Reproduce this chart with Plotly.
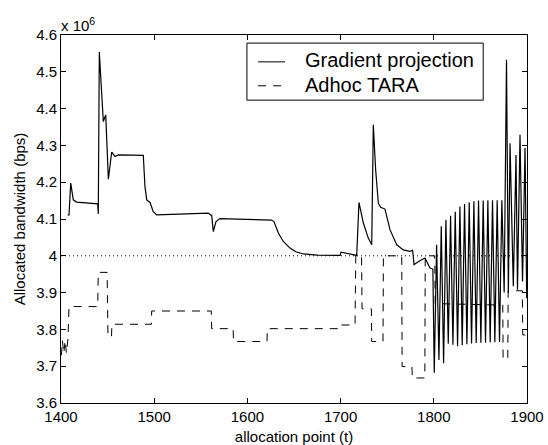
import plotly.graph_objects as go

# Allocated bandwidth in units of 10^6 bps
# Gradient projection: (allocation point, bandwidth)
gp_t = [1407.2, 1408.6, 1410.4, 1413.2, 1416.8, 1439.4, 1440.0, 1441.1, 1445.4, 1448.0,
        1450.8, 1454.4, 1457.9, 1461.5, 1488.3, 1490.1, 1492.0, 1495.5, 1499.0, 1502.7,
        1558.0, 1561.7, 1563.4, 1566.3, 1570.6, 1626.0, 1628.5, 1633.2, 1638.5, 1645.7,
        1652.0, 1660.0, 1675.0, 1699.5, 1700.4, 1717.3, 1719.7, 1724.4, 1729.7, 1733.4,
        1735.1, 1737.6, 1740.5, 1743.0, 1747.6, 1753.0, 1760.2, 1767.3, 1774.5, 1777.3,
        1778.8, 1784.0, 1790.6, 1795.9, 1799.0,
        1800.5, 1803.0, 1805.5, 1808.0, 1810.5, 1813.0, 1815.5, 1818.0, 1820.5, 1823.0,
        1825.5, 1828.0, 1830.5, 1833.0, 1835.5, 1838.0, 1840.5, 1843.0, 1845.5, 1848.0,
        1850.5, 1853.0, 1855.5, 1858.0, 1860.5, 1863.0, 1865.5, 1868.0, 1870.5, 1873.0,
        1875.5, 1878.0, 1880.0, 1881.8, 1885.3, 1888.2, 1889.8, 1892.5, 1895.2, 1897.9,
        1899.7]
gp_v = [4.111, 4.111, 4.198, 4.152, 4.146, 4.141, 4.114, 4.554, 4.365, 4.383,
        4.208, 4.282, 4.270, 4.274, 4.273, 4.188, 4.152, 4.145, 4.120, 4.111,
        4.116, 4.109, 4.066, 4.093, 4.101, 4.097, 4.093, 4.062, 4.039, 4.021,
        4.011, 4.005, 4.002, 4.001, 4.010, 4.001, 4.145, 4.089, 4.048, 4.030,
        4.356, 4.234, 4.143, 4.132, 4.127, 4.071, 4.030, 4.016, 4.012, 4.015,
        3.976, 3.985, 3.994, 3.967, 3.964,
        3.682, 4.030, 3.717, 4.080, 3.708, 4.098, 3.761, 4.109, 3.758, 4.120,
        3.754, 4.134, 3.757, 4.141, 3.760, 4.145, 3.762, 4.148, 3.763, 4.150,
        3.764, 4.150, 3.764, 4.151, 3.765, 4.151, 3.765, 4.151, 3.766, 4.151,
        3.900, 4.533, 3.899, 4.306, 3.917, 4.274, 3.908, 4.329, 3.930, 4.293,
        3.885]

# Adhoc TARA: step allocation
tara_t = [1400.5, 1401.5, 1403.0, 1404.5, 1405.8, 1407.5, 1408.6, 1439.4, 1440.0, 1449.5,
          1450.4, 1454.2, 1454.6, 1497.0, 1497.3, 1561.2, 1561.7, 1584.7, 1585.1, 1621.0,
          1621.4, 1697.5, 1698.0, 1715.5, 1716.3, 1722.5, 1723.0, 1733.0, 1733.4, 1745.5,
          1745.9, 1765.6, 1766.0, 1776.5, 1777.0, 1790.4, 1790.8, 1801.0, 1801.5, 1874.0,
          1874.4, 1879.4, 1879.8, 1895.0, 1895.4, 1900.0]
tara_v = [3.730, 3.770, 3.735, 3.770, 3.735, 3.775, 3.862, 3.862, 3.955, 3.955,
          3.781, 3.781, 3.814, 3.814, 3.850, 3.850, 3.802, 3.802, 3.767, 3.767,
          3.802, 3.802, 3.812, 3.812, 4.000, 4.000, 3.856, 3.856, 3.767, 3.767,
          4.000, 4.000, 3.699, 3.699, 3.668, 3.668, 4.000, 4.000, 3.870, 3.866,
          3.720, 3.720, 3.905, 3.905, 3.785, 3.785]

# Reference level
ref_t = [1400, 1900]
ref_v = [4.0, 4.0]

x_ticks = [1400, 1500, 1600, 1700, 1800, 1900]
y_ticks = [3.6, 3.7, 3.8, 3.9, 4.0, 4.1, 4.2, 4.3, 4.4, 4.5, 4.6]
y_tick_labels = ["3.6", "3.7", "3.8", "3.9", "4", "4.1", "4.2", "4.3", "4.4", "4.5", "4.6"]

series_names = ["Gradient projection", "Adhoc TARA"]
series_dash = ["solid", "8px,7px"]

FONT = "Liberation Sans, Arial, Helvetica, sans-serif"

fig = go.Figure()
fig.add_trace(go.Scatter(x=ref_t, y=ref_v, mode="lines", showlegend=False,
                         line=dict(color="black", width=1, dash="1px,3px")))
fig.add_trace(go.Scatter(x=gp_t, y=gp_v, mode="lines", name=series_names[0], showlegend=False,
                         line=dict(color="black", width=1.2, dash=series_dash[0], simplify=False)))
fig.add_trace(go.Scatter(x=tara_t, y=tara_v, mode="lines", name=series_names[1], showlegend=False,
                         line=dict(color="black", width=1, dash=series_dash[1], simplify=False)))

axis_common = dict(showline=True, linecolor="black", linewidth=1, mirror="ticks",
                   ticks="inside", ticklen=5, tickcolor="black", tickwidth=1,
                   showgrid=False, zeroline=False, automargin=False,
                   tickfont=dict(family=FONT, size=15, color="black"))

# Boxed legend in the upper right of the axes (paper coordinates)
LEG_X0, LEG_X1, LEG_Y0, LEG_Y1 = 0.399, 0.906, 0.823, 0.978
SAMPLE_X0, SAMPLE_X1, TEXT_X = 0.423, 0.481, 0.519
ROW_Y = [0.927, 0.862]
TEXT_Y = [0.932, 0.864]

shapes = [dict(type="rect", xref="paper", yref="paper", x0=LEG_X0, x1=LEG_X1, y0=LEG_Y0, y1=LEG_Y1,
               line=dict(color="black", width=1), fillcolor="white", layer="above")]
annotations = [dict(text="x 10<sup>6</sup>", xref="paper", yref="paper", x=0, y=1,
                    xanchor="left", yanchor="bottom", showarrow=False,
                    font=dict(family=FONT, size=15, color="black"), xshift=-2, yshift=-1)]
for name, dash, ry, ty in zip(series_names, series_dash, ROW_Y, TEXT_Y):
    shapes.append(dict(type="line", xref="paper", yref="paper", x0=SAMPLE_X0, x1=SAMPLE_X1,
                       y0=ry, y1=ry, line=dict(color="black", width=1, dash=dash), layer="above"))
    annotations.append(dict(text=name, xref="paper", yref="paper", x=TEXT_X, y=ty,
                            xanchor="left", yanchor="middle", showarrow=False,
                            font=dict(family=FONT, size=20, color="black")))

fig.update_layout(
    width=548, height=445,
    margin=dict(l=61, r=21, t=35, b=42),
    paper_bgcolor="white", plot_bgcolor="white",
    font=dict(family=FONT, color="black"),
    showlegend=False,
    xaxis=dict(range=[1400, 1900], tickvals=x_ticks,
               title=dict(text="allocation point (t)", font=dict(family=FONT, size=15), standoff=8),
               **axis_common),
    yaxis=dict(range=[3.6, 4.6], tickvals=y_ticks, ticktext=y_tick_labels,
               title=dict(text="Allocated bandwidth (bps)", font=dict(family=FONT, size=15), standoff=6),
               **axis_common),
    shapes=shapes,
    annotations=annotations,
)

fig.write_html("out.html")
